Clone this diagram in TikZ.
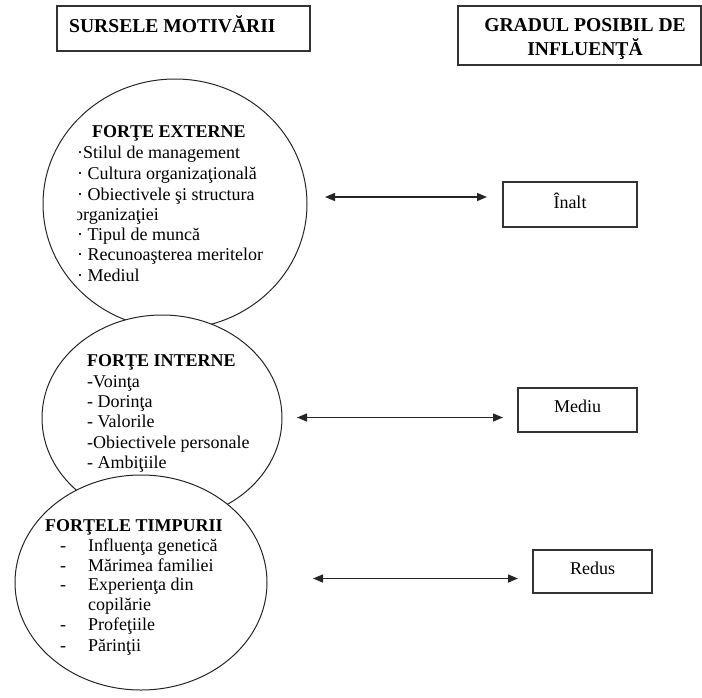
\documentclass[tikz,border=0pt]{standalone}
\usepackage{fontspec}
\setmainfont{Liberation Serif}
\usetikzlibrary{shapes.geometric,arrows.meta}
\begin{document}
\begin{tikzpicture}[x=1pt,y=-1pt,
  boxframe/.style={draw=black!80, line width=1.4pt, fill=white, inner sep=0pt, outer sep=0pt},
  oval/.style={ellipse, draw=black!85, line width=1pt, fill=white, inner sep=0pt, outer sep=0pt},
  title/.style={font=\fontsize{19.6}{22}\selectfont\bfseries, inner sep=0pt},
  head/.style={font=\fontsize{18}{20}\selectfont\bfseries, inner sep=0pt, anchor=base west},
  item/.style={font=\fontsize{18}{20}\selectfont, inner sep=0pt, anchor=base west},
  level/.style={font=\fontsize{18}{20}\selectfont, inner sep=0pt, anchor=base},
  link/.style={{Triangle[length=10pt,width=8pt]}-{Triangle[length=10pt,width=8pt]}, line width=1.4pt, draw=black!85}
]
\useasboundingbox (0,0) rectangle (702,697);

% column headers
\node[boxframe, minimum width=253pt, minimum height=45pt] (h1) at (183.5,28.5) {};
\node[title, anchor=base west] (h1t) at (69,32) {SURSELE MOTIVĂRII};
\node[boxframe, minimum width=243pt, minimum height=59pt] (h2) at (579.5,35.5) {};
\node[title, anchor=base] (h2a) at (585,31) {GRADUL POSIBIL DE};
\node[title, anchor=base] (h2b) at (585,55) {INFLUENŢĂ};

% external forces
\node[oval, minimum width=264pt, minimum height=250pt] (c1) at (175,204) {};
\node[head] (c1h) at (92,137) {FORŢE EXTERNE};
\foreach \y/\t [count=\i] in {158/{·Stilul de management},179/{· Cultura organizaţională},200/{· Obiectivele şi structura},240/{· Tipul de muncă},260/{· Recunoaşterea meritelor},281/{· Mediul}}
  \node[item] (e\i) at (77,\y) {\t};
\begin{scope}
  \clip (77,205) rectangle (300,230);
  \node[item] (e0) at (74,220) {organizaţiei};
\end{scope}

% internal forces
\node[oval, minimum width=240pt, minimum height=206pt] (c2) at (162,418) {};
\node[head] (c2h) at (87,366) {FORŢE INTERNE};
\foreach \y/\t [count=\i] in {387/{-Voinţa},407/{- Dorinţa},427/{- Valorile},448/{-Obiectivele personale},468/{- Ambiţiile}}
  \node[item] (i\i) at (87,\y) {\t};

% early forces
\node[oval, minimum width=252pt, minimum height=215pt] (c3) at (141,582.5) {};
\node[head] (c3h) at (45,531) {FORŢELE TIMPURII};
\foreach \y/\t [count=\i] in {551/{Influenţa genetică},571/{Mărimea familiei},590/{Experienţa din},630/{Profeţiile},651/{Părinţii}}{
  \node[item] (d\i) at (60,\y) {-};
  \node[item] (t\i) at (88,\y) {\t};
}
\node[item] (t0) at (88,610) {copilărie};

% degree of influence
\node[boxframe, minimum width=134pt, minimum height=45pt] (hi) at (570,204.5) {};
\node[level] (hit) at (570,208) {Înalt};
\node[boxframe, minimum width=119pt, minimum height=44pt] (md) at (577.5,410) {};
\node[level] (mdt) at (577.5,412.5) {Mediu};
\node[boxframe, minimum width=119pt, minimum height=43pt] (lo) at (592.5,571.5) {};
\node[level] (lot) at (592.5,574) {Redus};

% connectors
\coordinate (a1l) at (325,197);
\coordinate (a1r) at (487,197);
\coordinate (a2l) at (297,417.5);
\coordinate (a2r) at (503,417.5);
\coordinate (a3l) at (313,578.5);
\coordinate (a3r) at (518,578.5);
\draw[link] (a1l) -- (a1r);
\draw[link] (a2l) -- (a2r);
\draw[link] (a3l) -- (a3r);
\end{tikzpicture}
\end{document}
